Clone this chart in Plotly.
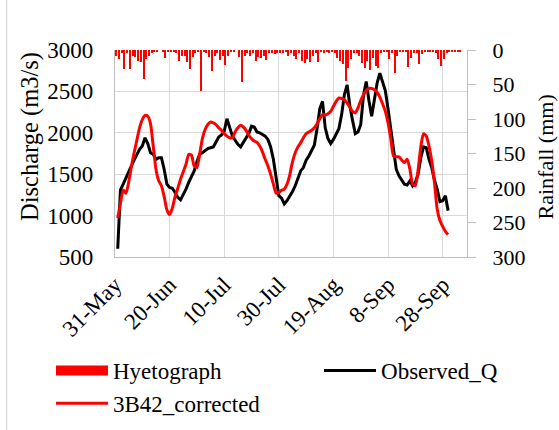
import plotly.graph_objects as go
import pandas as pd

# ---------------- data ----------------
q_start = "2014-06-01"          # first discharge date
rain_start = "2014-05-31 12:00"  # first rainfall bar (centred in day)

observed_q = [
    600, 1310, 1380, 1460, 1530, 1600, 1670, 1740, 1800, 1840,
    1940, 1870, 1760, 1740, 1680, 1700, 1700, 1560, 1380, 1340,
    1330, 1280, 1220, 1190, 1250, 1320, 1400, 1480, 1540, 1650,
    1740, 1760, 1790, 1810, 1820, 1830, 1890, 1950, 1975, 2020,
    2170, 2050, 1960, 1910, 1860, 1830, 1880, 1940, 1990, 2080,
    2070, 2010, 2000, 1980, 1960, 1920, 1830, 1680, 1430, 1240,
    1210, 1140, 1180, 1230, 1290, 1360, 1450, 1540, 1580, 1670,
    1720, 1780, 1850, 2050, 2290, 2380, 2060, 1930, 1870, 1920,
    1980, 2050, 2220, 2460, 2580, 2330, 2150, 1990, 2010, 2100,
    2450, 2620, 2390, 2200, 2400, 2600, 2720, 2610, 2510, 2290,
    2040, 1760, 1560, 1480, 1430, 1380, 1370, 1420, 1360, 1400,
    1500, 1700, 1830, 1820, 1680, 1580, 1430, 1320, 1170, 1180,
    1240, 1060,
]

b42_corrected = [
    970, 1150, 1310, 1270, 1400, 1590, 1760, 1910, 2060, 2160,
    2210, 2200, 2110, 1840, 1560, 1420, 1360, 1230, 1070, 1010,
    1090, 1230, 1330, 1440, 1530, 1620, 1740, 1730, 1600, 1580,
    1740, 1930, 2040, 2100, 2130, 2120, 2100, 2060, 2030, 1990,
    1960, 1940, 1940, 2010, 2060, 2090, 2070, 2030, 1970, 1930,
    1900, 1885, 1840, 1770, 1680, 1600, 1500, 1380, 1270, 1280,
    1305, 1320, 1380, 1490, 1650, 1760, 1830, 1880, 1940, 1990,
    2010, 2030, 2060, 2110, 2170, 2220, 2215, 2230, 2260, 2320,
    2380, 2420, 2415, 2400, 2360, 2310, 2260, 2240, 2300, 2390,
    2460, 2510, 2535, 2535, 2520, 2490, 2430, 2350, 2260, 2120,
    1930, 1720, 1710, 1710, 1670, 1640, 1680, 1560, 1380, 1360,
    1550, 1830, 1990, 1960, 1840, 1660, 1400, 1080, 940, 870,
    810, 770,
]

rainfall = [
    8, 13, 5, 28, 5, 27, 9, 10, 16, 18,
    42, 13, 9, 5, 3, 3, 0, 2, 11, 3,
    2, 3, 4, 16, 9, 8, 17, 28, 10, 5,
    3, 59, 1.5, 4, 10, 30, 8, 5, 14, 9,
    22, 8, 3, 2, 0, 10, 46, 9, 5, 8,
    4, 16, 10, 12, 8, 14, 5, 4, 6, 5,
    4, 5, 3, 9, 5, 8, 12.5, 5, 16, 19,
    13.5, 17, 9, 5, 18, 3, 4, 1.5, 4, 3,
    5, 11, 16, 21, 45, 25.6, 12.5, 5, 4, 8,
    19, 25.6, 16, 29, 11, 23, 25.6, 5, 1.5, 3,
    12.5, 5, 33, 9, 3, 2, 1.5, 24, 11, 4,
    5, 21, 6, 3, 1.5, 3, 1.5, 4, 12.5, 23,
    13.5, 5, 1.5, 2, 1.5, 1.5, 1.5,
]

x_tick_start = "2014-05-31"
x_range = ["2014-05-31", "2014-10-06 22:00"]
q_ticks = [500, 1000, 1500, 2000, 2500, 3000]
rain_ticks = [0, 50, 100, 150, 200, 250, 300]

q_dates = pd.date_range(q_start, periods=len(observed_q), freq="D")
rain_dates = pd.date_range(rain_start, periods=len(rainfall), freq="D")

DAY_MS = 86400000
FONT = "Liberation Serif"
GRID = "#d9d9d9"
AXIS = "#bfbfbf"

fig = go.Figure()

fig.add_trace(go.Bar(
    x=rain_dates, y=rainfall, yaxis="y2", name="Hyetograph",
    marker=dict(color="#ff0000", line=dict(width=0)),
    width=0.45 * DAY_MS, showlegend=False, legendgroup="rain",
))
# legend entry for the hyetograph (drawn as a wide red block like the original)
fig.add_trace(go.Scatter(
    x=[None], y=[None], yaxis="y2", mode="lines", name="Hyetograph",
    line=dict(color="#ff0000", width=12), legendgroup="rain", legend="legend",
))
fig.add_trace(go.Scatter(
    x=q_dates, y=observed_q, mode="lines", name="Observed_Q",
    line=dict(color="black", width=3), legend="legend2",
))
fig.add_trace(go.Scatter(
    x=q_dates, y=b42_corrected, mode="lines", name="3B42_corrected",
    line=dict(color="#ff0000", width=3, shape="spline", smoothing=0.6),
    legendgroup="b42", legend="legend",
))

legend_common = dict(
    orientation="v", xref="container", yref="container",
    xanchor="left", yanchor="top", itemwidth=52,
    font=dict(family=FONT, size=23), traceorder="normal",
    bgcolor="rgba(0,0,0,0)", tracegroupgap=3,
)

fig.update_layout(
    width=559, height=430,
    margin=dict(l=115, r=92, t=50, b=173, autoexpand=False),
    paper_bgcolor="white", plot_bgcolor="white",
    font=dict(family=FONT, size=23, color="black"),
    bargap=0,
    xaxis=dict(
        type="date", range=x_range, tick0=x_tick_start, dtick=20 * DAY_MS,
        tickformat="%-d-%b", tickangle=-45, showgrid=True, gridcolor=GRID,
        gridwidth=1.3, showline=True, linecolor=AXIS, linewidth=1.3,
        ticks="", zeroline=False, ticklabelstandoff=4, automargin=False,
        tickfont=dict(size=23),
    ),
    yaxis=dict(
        range=[500, 3000], tickvals=q_ticks, showgrid=True, gridcolor=GRID,
        gridwidth=1.3, showline=True, linecolor=AXIS, linewidth=1.3,
        ticks="", zeroline=False, ticklabelstandoff=16, automargin=False,
        tickfont=dict(size=23),
    ),
    yaxis2=dict(
        overlaying="y", side="right", range=[300, 0], tickvals=rain_ticks,
        showgrid=False, showline=True, linecolor=AXIS, linewidth=1.3,
        ticks="outside", ticklen=8, tickcolor=AXIS, tickwidth=1.3,
        zeroline=False, ticklabelstandoff=12, automargin=False,
        tickfont=dict(size=22),
    ),
    legend=dict(legend_common, x=0.0912, y=0.1884),
    legend2=dict(legend_common, x=0.5707, y=0.1884),
    annotations=[
        dict(text="Discharge (m3/s)", textangle=-90, showarrow=False,
             xref="paper", yref="paper", x=-0.2415, y=0.5845,
             xanchor="center", yanchor="middle",
             font=dict(family=FONT, size=24.5)),
        dict(text="Rainfall (mm)", textangle=-90, showarrow=False,
             xref="paper", yref="paper", x=1.2216, y=0.4807,
             xanchor="center", yanchor="middle",
             font=dict(family=FONT, size=22)),
    ],
    shapes=[dict(type="line", xref="paper", yref="paper", x0=-0.308, x1=-0.308,
                 y0=-0.85, y1=1.25, line=dict(color=GRID, width=1.3))],
)

fig.write_html(
    "out.html",
    config={"responsive": False, "displayModeBar": False},
    post_script="document.body.style.margin='0';document.body.style.padding='0';",
)
